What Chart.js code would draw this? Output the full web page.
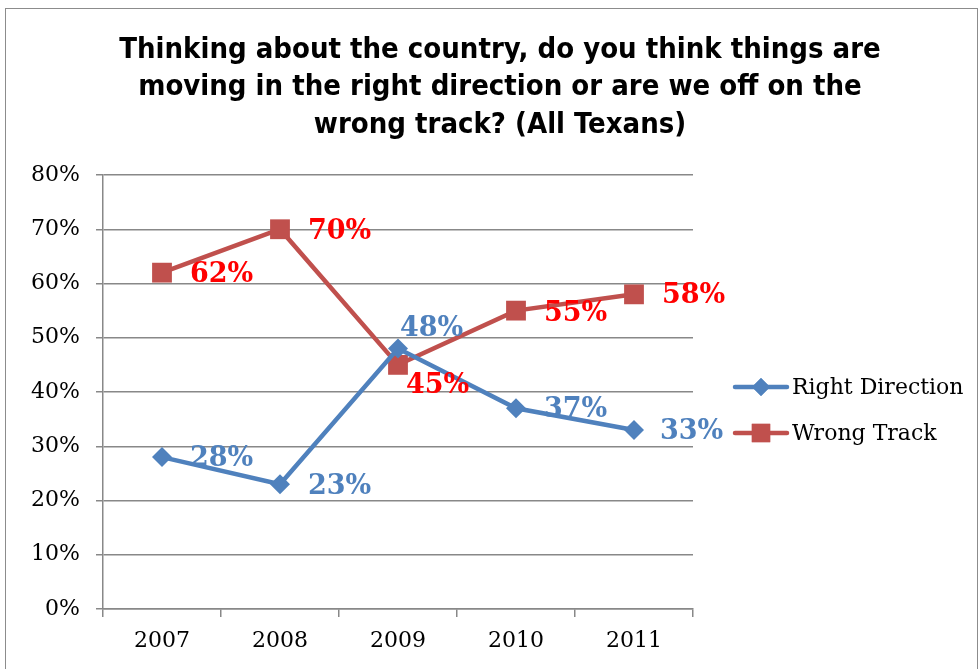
<!DOCTYPE html>
<html><head><meta charset="utf-8">
<script src="https://cdn.jsdelivr.net/npm/chart.js@4.4.0/dist/chart.umd.min.js"></script>
<style>
html,body{margin:0;padding:0;background:#fff;}
#wrap{position:relative;width:980px;height:669px;}
#frame{position:absolute;left:5px;top:8px;width:973px;height:700px;border:1.5px solid #8c8c8c;box-sizing:border-box;}
canvas{position:absolute;left:0;top:0;}
</style></head>
<body><div id="wrap"><div id="frame"></div><canvas id="c" width="980" height="669"></canvas></div>
<script>
const titleLines = ["Thinking about the country, do you think things are","moving in the right direction or are we off on the","wrong track? (All Texans)"];
const years = ["2007","2008","2009","2010","2011"];
const rightDirection = [28,23,48,37,33];
const wrongTrack = [62,70,45,55,58];
const seriesNames = ["Right Direction","Wrong Track"];
const yTicks = [0,10,20,30,40,50,60,70,80];

const BLUE = '#4F81BD', RED = '#C0504D';
// label offsets (dx, dy) relative to point, per series
const labelOffsets = [
  [[28,2],[28,3],[2,-20],[28,2],[26,2]],
  [[28,2],[28,3],[8,21],[28,3],[28,2]]
];
const labelColors = [BLUE,'#FF0000'];

const customPlugin = {
  id:'custom',
  afterDraw(chart){
    const ctx = chart.ctx;
    ctx.save();
    // title
    ctx.fillStyle='#000';
    ctx.font='bold 29px "Liberation Sans Narrow", "DejaVu Sans Condensed", sans-serif';
    ctx.textAlign='center'; ctx.textBaseline='middle';
    titleLines.forEach((t,i)=>ctx.fillText(t,500,50+i*37.5));
    // data labels
    ctx.font='bold 27px "DejaVu Serif", serif';
    ctx.textAlign='left'; ctx.textBaseline='middle';
    chart.data.datasets.forEach((ds,di)=>{
      const meta = chart.getDatasetMeta(di);
      meta.data.forEach((pt,i)=>{
        const o = labelOffsets[di][i];
        ctx.fillStyle = labelColors[di];
        ctx.fillText(ds.data[i]+'%', pt.x+o[0], pt.y+o[1]);
      });
    });
    // legend
    ctx.font='22px "DejaVu Serif", serif';
    const items=[{y:387,c:BLUE,s:'rectRot',r:9},{y:433,c:RED,s:'rect',r:13}];
    items.forEach((it,i)=>{
      ctx.strokeStyle=it.c; ctx.lineWidth=4.5; ctx.lineCap='round';
      ctx.beginPath(); ctx.moveTo(735,it.y); ctx.lineTo(787,it.y); ctx.stroke();
      ctx.fillStyle=it.c;
      Chart.helpers.drawPoint(ctx,{pointStyle:it.s,radius:it.r,borderWidth:0,rotation:0},761,it.y);
      ctx.fill();
      ctx.fillStyle='#000'; ctx.textAlign='left'; ctx.textBaseline='middle';
      ctx.fillText(seriesNames[i],792,it.y+1);
    });
    ctx.restore();
  }
};

new Chart(document.getElementById('c'),{
  type:'line',
  data:{labels:years,datasets:[
    {label:seriesNames[0],data:rightDirection,borderColor:BLUE,backgroundColor:BLUE,borderWidth:4.5,
     pointStyle:'rectRot',pointRadius:10,pointHoverRadius:10,pointBorderWidth:0,tension:0},
    {label:seriesNames[1],data:wrongTrack,borderColor:RED,backgroundColor:RED,borderWidth:4.5,
     pointStyle:'rect',pointRadius:14,pointHoverRadius:14,pointBorderWidth:0,tension:0}
  ]},
  options:{
    responsive:false,animation:false,
    layout:{padding:{left:0,top:175,right:287,bottom:0}},
    plugins:{legend:{display:false},title:{display:false},tooltip:{enabled:false}},
    scales:{
      x:{offset:true,
        grid:{offset:true,drawOnChartArea:false,drawTicks:true,tickLength:8,color:'#888',lineWidth:1.5},
        border:{color:'#888',width:1.5},
        ticks:{color:'#000',font:{family:'"DejaVu Serif", serif',size:22},padding:11},
        afterFit(s){s.height=60;}
      },
      y:{min:0,max:80,
        afterBuildTicks(s){s.ticks=yTicks.map(v=>({value:v}));},
        grid:{color:'#888',lineWidth:1.5,tickLength:7},
        border:{color:'#888',width:1.5},
        ticks:{color:'#000',font:{family:'"DejaVu Serif", serif',size:22},padding:16,callback:v=>v+'%'},
        afterFit(s){s.width=103;}
      }
    }
  },
  plugins:[customPlugin]
});
</script></body></html>
